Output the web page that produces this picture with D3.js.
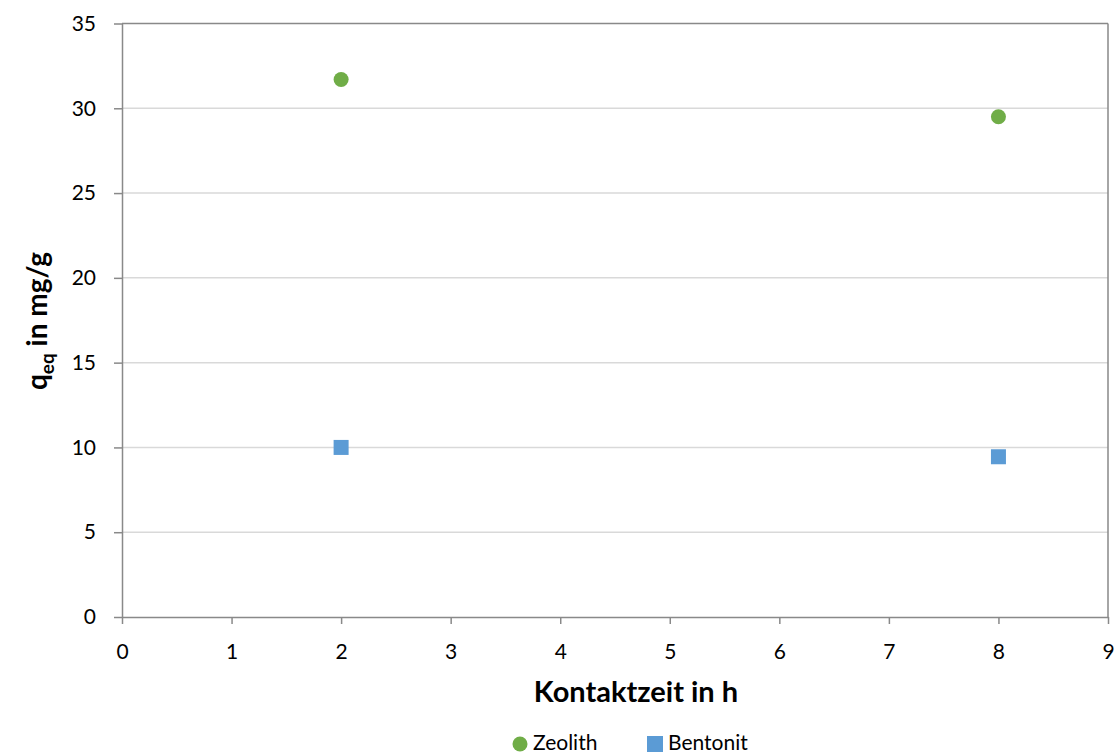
<!DOCTYPE html>
<html>
<head>
<meta charset="utf-8">
<script src="https://cdn.jsdelivr.net/npm/d3@7"></script>
<style>
  body { margin: 0; background: #fff; }
  svg { display: block; font-family: Lato, "Open Sans", sans-serif; }
</style>
</head>
<body>
<svg id="chart" width="1115" height="753"></svg>
<script>
// Contact time (h) and equilibrium loading (mg/g)
const zeolithTime = [2, 8];
const zeolithQ = [31.7, 29.5];
const bentonitTime = [2, 8];
const bentonitQ = [10.0, 9.45];
const xTicks = [0, 1, 2, 3, 4, 5, 6, 7, 8, 9];
const yTicks = [0, 5, 10, 15, 20, 25, 30, 35];
const seriesNames = ["Zeolith", "Bentonit"];
const seriesColors = ["#70ad47", "#5b9bd5"];

const svg = d3.select("#chart");
const plotLeft = 122, plotRight = 1108, plotTop = 23.5, plotBottom = 617;

const x = d3.scaleLinear().domain([0, 9]).range([plotLeft, plotRight]);
const y = d3.scaleLinear().domain([0, 35]).range([plotBottom, plotTop]);

// horizontal gridlines
svg.append("g").selectAll("line").data(yTicks.filter(v => v > 0)).join("line")
  .attr("x1", plotLeft).attr("x2", plotRight)
  .attr("y1", d => y(d)).attr("y2", d => y(d))
  .attr("stroke", d => d === 35 ? "#898989" : "#d9d9d9")
  .attr("stroke-width", 1.5);

// right frame line
svg.append("line").attr("x1", plotRight).attr("x2", plotRight)
  .attr("y1", plotTop).attr("y2", plotBottom)
  .attr("stroke", "#898989").attr("stroke-width", 1.5);

// axes
const xAxis = d3.axisBottom(x).tickValues(xTicks).tickSize(7).tickPadding(20).tickSizeOuter(0);
const yAxis = d3.axisLeft(y).tickValues(yTicks).tickSize(8).tickPadding(18).tickSizeOuter(0);

const gx = svg.append("g").attr("transform", `translate(0,${plotBottom})`).call(xAxis);
const gy = svg.append("g").attr("transform", `translate(${plotLeft},0)`).call(yAxis);
[gx, gy].forEach(g => {
  g.select(".domain").attr("stroke", "#898989").attr("stroke-width", 1.5);
  g.selectAll(".tick line").attr("stroke", "#898989").attr("stroke-width", 1.5);
  g.selectAll(".tick text").attr("fill", "#000").style("font-size", "21px")
    .style("font-family", "Lato, 'Open Sans', sans-serif");
});

// axis titles
svg.append("text").attr("x", 636).attr("y", 702)
  .attr("text-anchor", "middle").style("font-size", "29px").style("font-weight", "bold")
  .text("Kontaktzeit in h");

const yt = svg.append("text")
  .attr("transform", `translate(47,${321}) rotate(-90)`)
  .attr("text-anchor", "middle").style("font-size", "28px").style("font-weight", "bold");
yt.append("tspan").text("q");
yt.append("tspan").attr("dy", 7).style("font-size", "19px").text("eq");
yt.append("tspan").attr("dy", -7).text(" in mg/g");

// markers
const zeolith = zeolithTime.map((t, i) => ({ t, q: zeolithQ[i] }));
const bentonit = bentonitTime.map((t, i) => ({ t, q: bentonitQ[i] }));

svg.append("g").selectAll("circle").data(zeolith).join("circle")
  .attr("cx", d => x(d.t)).attr("cy", d => y(d.q)).attr("r", 7.5)
  .attr("fill", seriesColors[0]);

svg.append("g").selectAll("rect").data(bentonit).join("rect")
  .attr("x", d => x(d.t) - 7.5).attr("y", d => y(d.q) - 7.5)
  .attr("width", 15).attr("height", 15)
  .attr("fill", seriesColors[1]);

// legend
const lg = svg.append("g");
lg.append("circle").attr("cx", 520).attr("cy", 744).attr("r", 7.5).attr("fill", seriesColors[0]);
lg.append("text").attr("x", 533).attr("y", 750).style("font-size", "21px").text(seriesNames[0]);
lg.append("rect").attr("x", 647).attr("y", 736).attr("width", 16).attr("height", 16).attr("fill", seriesColors[1]);
lg.append("text").attr("x", 668).attr("y", 750).style("font-size", "21px").text(seriesNames[1]);
</script>
</body>
</html>
